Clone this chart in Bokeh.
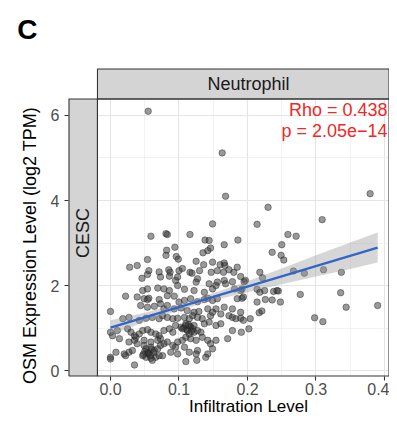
import math
from bokeh.plotting import figure
from bokeh.models import FixedTicker, BoxAnnotation, Label, Range1d, ColumnDataSource
from bokeh.embed import file_html
from bokeh.resources import INLINE

# ---------------- data ----------------
infiltration = [
    0.055, 0.163, 0.168, 0.149, 0.059, 0.081, 0.083, 0.116, 0.138, 0.144, 0.166, 0.186,
    0.094, 0.082, 0.081, 0.096, 0.099, 0.146, 0.142, 0.135, 0.054, 0.125, 0.028, 0.039,
    0.056, 0.054, 0.071, 0.085, 0.087, 0.086, 0.100, 0.105, 0.116, 0.119, 0.136, 0.149,
    0.160, 0.166, 0.167, 0.130, 0.147, 0.156, 0.165, 0.173, 0.180, 0.185, 0.190, 0.046,
    0.379, 0.230, 0.214, 0.309, 0.259, 0.271, 0.250, 0.236, 0.249, 0.253, 0.218, 0.267,
    0.283, 0.311, 0.337, 0.222,
    0.195, 0.197, 0.190, 0.192, 0.214, 0.218, 0.225, 0.238, 0.243, 0.245, 0.277, 0.336,
    0.192, 0.194, 0.214, 0.226, 0.236, 0.248, 0.344, 0.390, 0.217, 0.221, 0.204, 0.190,
    0.194, 0.298, 0.310, 0.202, 0.191,
    0.073, 0.095, 0.098, 0.127, 0.125, 0.144, 0.156, 0.166, 0.178,
    0.047, 0.054, 0.069, 0.078, 0.086, 0.098, 0.108, 0.122, 0.137, 0.149, 0.154, 0.168,
    0.181, 0.185,
    0.022, 0.039, 0.049, 0.054, 0.056, 0.071, 0.083, 0.093, 0.100, 0.108, 0.117, 0.127,
    0.137, 0.142, 0.149, 0.156,
    0.044, 0.054, 0.064, 0.073, 0.078, 0.083, 0.093, 0.103, 0.112, 0.122, 0.129, 0.142,
    0.154, 0.166, 0.178, 0.190,
    0.000, 0.027, 0.018, 0.042, 0.052, 0.061, 0.071, 0.076, 0.083, 0.091, 0.098, 0.108,
    0.115, 0.120, 0.127, 0.134, 0.146, 0.149, 0.161, 0.173, 0.178, 0.183,
    0.000, 0.003, 0.010, 0.025, 0.030, 0.035, 0.037, 0.042, 0.047, 0.054, 0.059, 0.066,
    0.071, 0.078, 0.086, 0.091, 0.095, 0.103, 0.105, 0.110, 0.112, 0.117, 0.115, 0.122,
    0.127, 0.132, 0.137, 0.144, 0.154, 0.161, 0.171, 0.178,
    0.013, 0.027, 0.035, 0.039, 0.049, 0.059, 0.069, 0.073, 0.078, 0.083, 0.091, 0.098,
    0.105, 0.110, 0.117, 0.125, 0.134, 0.142, 0.146, 0.154,
    0.000, 0.008, 0.020, 0.027, 0.032, 0.049, 0.052, 0.054, 0.059, 0.064, 0.069, 0.073,
    0.076, 0.088, 0.095, 0.098, 0.108, 0.115, 0.127, 0.142, 0.149,
    0.000, 0.022, 0.047, 0.052, 0.056, 0.059, 0.066, 0.071, 0.110, 0.125, 0.139, 0.035,
    0.107, 0.112, 0.116, 0.120, 0.110, 0.118, 0.114, 0.122,
    0.050, 0.055, 0.060, 0.063, 0.048, 0.058, 0.126, 0.061,
]
expression = [
    6.10, 5.12, 4.10, 3.45, 3.16, 3.22, 3.20, 3.20, 3.07, 3.06, 2.96, 3.07,
    2.90, 2.83, 2.71, 2.68, 2.62, 2.88, 2.82, 2.77, 2.61, 2.57, 2.43, 2.47,
    2.35, 2.26, 2.32, 2.37, 2.31, 2.22, 2.35, 2.40, 2.31, 2.29, 2.49, 2.55,
    2.49, 2.53, 2.47, 2.35, 2.31, 2.35, 2.31, 2.37, 2.31, 2.43, 2.21, 2.17,
    4.16, 3.84, 3.44, 3.55, 3.20, 3.16, 2.96, 2.78, 2.71, 2.60, 2.31, 2.34,
    2.29, 2.37, 2.31, 2.18,
    2.09, 2.12, 1.88, 1.92, 1.91, 1.84, 1.88, 1.86, 1.88, 1.87, 1.79, 1.83,
    1.70, 1.73, 1.61, 1.67, 1.66, 1.61, 1.49, 1.53, 1.36, 1.40, 1.22, 1.23,
    1.18, 1.24, 1.15, 0.98, 0.90,
    2.20, 2.12, 2.20, 2.16, 2.08, 2.04, 2.08, 2.12, 2.09,
    1.88, 1.92, 1.94, 1.92, 1.88, 2.00, 1.91, 1.88, 1.84, 1.92, 2.00, 2.04,
    1.92, 1.69,
    1.75, 1.73, 1.69, 1.67, 1.70, 1.67, 1.76, 1.75, 1.61, 1.65, 1.69, 1.62,
    1.67, 1.70, 1.65, 1.69,
    1.53, 1.49, 1.51, 1.57, 1.45, 1.53, 1.45, 1.47, 1.41, 1.37, 1.39, 1.45,
    1.45, 1.49, 1.45, 1.37,
    1.39, 1.25, 1.22, 1.18, 1.23, 1.25, 1.22, 1.29, 1.25, 1.22, 1.23, 1.25,
    1.22, 1.29, 1.25, 1.22, 1.29, 1.37, 1.33, 1.29, 1.25, 1.22,
    0.90, 0.82, 0.94, 0.98, 0.90, 0.82, 0.78, 0.86, 0.94, 0.96, 0.90, 0.86,
    0.82, 0.94, 0.98, 0.90, 1.06, 1.02, 0.98, 1.06, 0.94, 1.02, 0.86, 0.90,
    0.94, 0.90, 1.10, 1.14, 1.06, 1.10, 0.75, 0.94,
    0.75, 0.67, 0.71, 0.63, 0.71, 0.67, 0.71, 0.75, 0.63, 0.67, 0.59, 0.67,
    0.71, 0.78, 0.75, 0.71, 0.78, 0.71, 0.63, 0.71,
    0.31, 0.43, 0.39, 0.43, 0.47, 0.59, 0.51, 0.43, 0.55, 0.47, 0.51, 0.59,
    0.35, 0.43, 0.55, 0.39, 0.55, 0.43, 0.47, 0.39, 0.51,
    0.27, 0.35, 0.35, 0.31, 0.39, 0.29, 0.31, 0.35, 0.21, 0.39, 0.31, 0.13,
    1.00, 0.96, 1.04, 0.98, 1.10, 0.92, 1.08, 1.06,
    0.45, 0.40, 0.50, 0.42, 0.38, 0.35, 0.24, 0.24,
]

fit_x = [0.0, 0.39]
fit_y = [1.01, 2.89]
band_x = [0.0, 0.05, 0.10, 0.15, 0.20, 0.25, 0.30, 0.35, 0.39]
band_lower = [0.84, 1.14, 1.42, 1.65, 1.84, 2.03, 2.21, 2.39, 2.54]
band_upper = [1.18, 1.36, 1.57, 1.82, 2.10, 2.40, 2.71, 3.01, 3.25]

x_ticks = [0.0, 0.1, 0.2, 0.3, 0.4]
x_tick_labels = ["0.0", "0.1", "0.2", "0.3", "0.4"]
y_ticks = [0, 2, 4, 6]
y_tick_labels = ["0", "2", "4", "6"]

panel_label = "C"
strip_top = "Neutrophil"
strip_left = "CESC"
x_title = "Infiltration Level"
y_title = "OSM Expression Level (log2 TPM)"
stat_rho = "Rho = 0.438"
stat_p = "p = 2.05e\u221214"

FONT = "Liberation Sans"

# panel / strip geometry in data units
X0, X1 = -0.16058, 0.40730      # canvas edges
Y0, Y1 = -1.08235, 8.70588
PANEL_L, PANEL_R = -0.019, 0.4066
PANEL_B, PANEL_T = -0.1294, 6.388
STRIP_T = 7.094
STRIP_L = -0.0606

p = figure(width=389, height=416, output_backend="svg", toolbar_location=None,
           x_range=Range1d(X0, X1), y_range=Range1d(Y0, Y1),
           min_border_left=0, min_border_top=0, min_border_right=0, min_border_bottom=0)
p.outline_line_color = None
p.background_fill_color = "white"
p.border_fill_color = "white"

# axes drawn at the panel edges
p.xaxis.fixed_location = -0.1412
p.yaxis.fixed_location = -0.0613
p.xaxis.ticker = FixedTicker(ticks=x_ticks, minor_ticks=[0.05, 0.15, 0.25, 0.35])
p.yaxis.ticker = FixedTicker(ticks=y_ticks, minor_ticks=[1, 3, 5])
p.xaxis.major_label_overrides = dict(zip(x_ticks, x_tick_labels))
p.yaxis.major_label_overrides = dict(zip(y_ticks, y_tick_labels))
for ax in (p.xaxis, p.yaxis):
    ax.axis_line_color = None
    ax.major_tick_line_color = "#333333"
    ax.major_tick_line_width = 1.1
    ax.major_tick_out = 4
    ax.major_tick_in = 0
    ax.minor_tick_line_color = None
    ax.major_label_text_font = FONT
    ax.major_label_text_font_size = "16px"
    ax.major_label_text_color = "#4d4d4d"
p.xaxis.major_label_standoff = 2
p.yaxis.major_label_standoff = 5

p.xgrid.grid_line_color = "#e5e5e5"
p.xgrid.grid_line_width = 1.1
p.ygrid.grid_line_color = "#e5e5e5"
p.ygrid.grid_line_width = 1.1
p.xgrid.minor_grid_line_color = "#ececec"
p.ygrid.minor_grid_line_color = "#ececec"
p.xgrid.minor_grid_line_width = 0.7
p.ygrid.minor_grid_line_width = 0.7

def box(level="underlay", fill="white", line=None, **kw):
    b = BoxAnnotation(fill_color=fill, fill_alpha=1 if fill else 0,
                      line_color=line, line_alpha=1 if line else 0,
                      line_width=1.1, level=level, **kw)
    p.add_layout(b)

# white covers outside the panel (hide grid lines there)
box(bottom=STRIP_T)
box(right=STRIP_L)
box(top=PANEL_B)
box(left=PANEL_R)
box(right=PANEL_L, bottom=PANEL_T)
# strips
box(fill="#d4d4d4", line="#333333", left=PANEL_L, right=PANEL_R, bottom=PANEL_T, top=STRIP_T)
box(fill="#d4d4d4", line="#333333", left=STRIP_L, right=PANEL_L, bottom=PANEL_B, top=PANEL_T)

# points
src = ColumnDataSource(dict(x=infiltration, y=expression))
p.scatter("x", "y", source=src, size=6.5, fill_color="#333333", fill_alpha=0.5,
          line_color="#222222", line_alpha=0.55, line_width=0.8)

# confidence band and fit line
p.varea(x=band_x, y1=band_lower, y2=band_upper, fill_color="#999999", fill_alpha=0.4)
p.line(fit_x, fit_y, line_color="#3165c9", line_width=2.4)

# panel border
box(level="annotation", fill=None, line="#333333",
    left=PANEL_L, right=PANEL_R, bottom=PANEL_B, top=PANEL_T)

def lab(x, y, text, size, color="black", align="center", angle=0.0, style="normal"):
    p.add_layout(Label(x=x, y=y, text=text, text_font=FONT, text_font_size=size,
                       text_color=color, text_align=align, text_baseline="alphabetic",
                       angle=angle, text_font_style=style))

lab(0.2015, 6.742, strip_top, "18px", color="#1a1a1a")
lab(-0.0404, 3.235, strip_left, "18px", color="#1a1a1a", angle=math.pi / 2)
lab(0.4044, 6.118, stat_rho, "18px", color="#f02828", align="right")
lab(0.4044, 5.647, stat_p, "18px", color="#f02828", align="right")
lab(0.2015, -0.847, x_title, "17px")
lab(-0.1168, 2.941, y_title, "18px", angle=math.pi / 2)
lab(-0.1212, 8.012, panel_label, "28px", style="bold")

open("out.html", "w").write(file_html(p, INLINE))
